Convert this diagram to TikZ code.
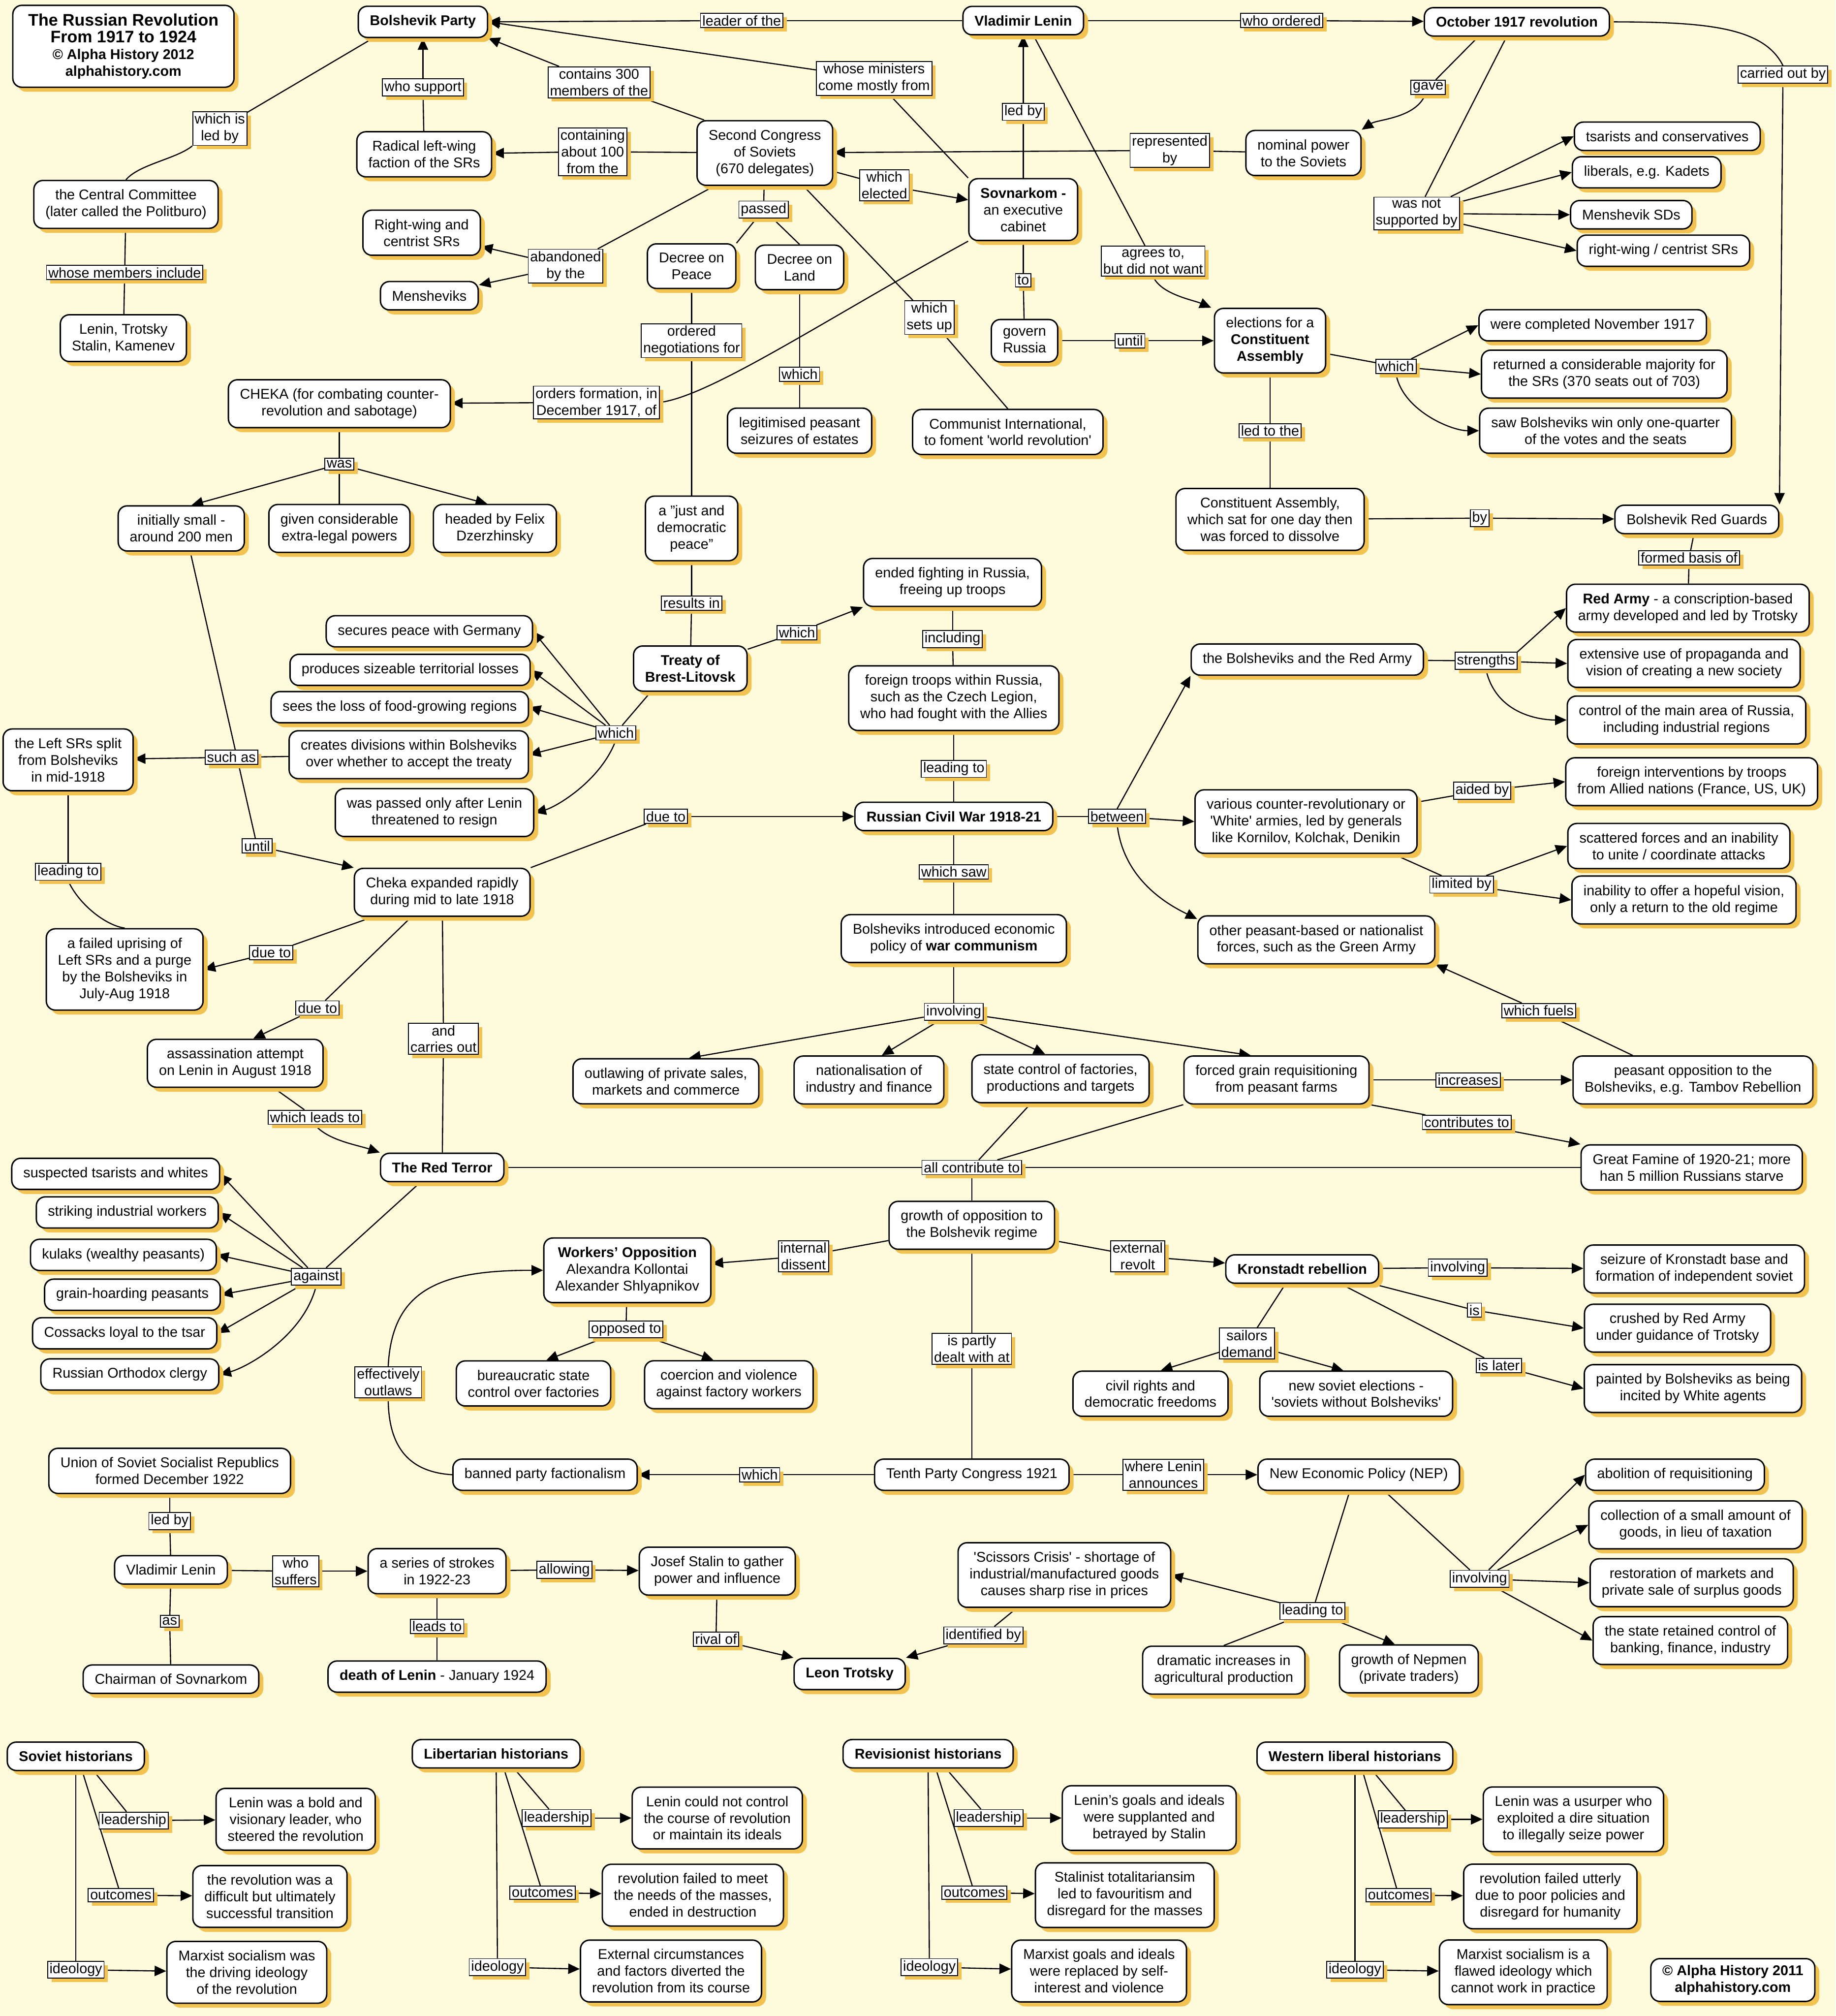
\documentclass[tikz,border=0pt]{standalone}
\usepackage{fontspec}
\setmainfont{Liberation Sans}
\usepackage{tikz}
\usetikzlibrary{arrows.meta,shadows,backgrounds,positioning}

\definecolor{cream}{RGB}{254,251,221}
\definecolor{shadowyel}{RGB}{242,195,80}

\newcommand{\titlebig}{\fontsize{13}{15}\selectfont\bfseries}
\newcommand{\titlesmall}{\fontsize{11}{14}\selectfont\bfseries}

\begin{document}
\begin{tikzpicture}[x=1pt, y=-1pt,
        concept/.style={draw, line width=1.1pt, rounded corners=7pt, fill=white,
                    align=center, font=\fontsize{11}{13}\selectfont,
                    inner xsep=9pt, inner ysep=7pt,
                    drop shadow={shadow xshift=3.5pt, shadow yshift=-3.5pt,
                                 fill=shadowyel, opacity=1}},
        keyconcept/.style={concept, font=\fontsize{11}{13}\selectfont\bfseries},
        linkword/.style={draw, line width=0.7pt, fill=white, align=center,
                    font=\fontsize{11}{13}\selectfont, inner xsep=1.5pt, inner ysep=1.5pt,
                    drop shadow={shadow xshift=3pt, shadow yshift=-3pt,
                                 fill=shadowyel, opacity=1}},
        arr/.style={-{Triangle[length=9pt, width=8pt]}, line width=0.9pt},
        line/.style={line width=0.9pt}
    ]
        \useasboundingbox (0,0) rectangle (1428,1568);

        % ── Title and the top row ─────────────────────────────────────────
        \node[concept, inner xsep=12pt, inner ysep=6.5pt] (title) at (96,36)
            {\titlebig The Russian Revolution\\\titlebig From 1917 to 1924\\
             \titlesmall © Alpha History 2012\\\titlesmall alphahistory.com};
        \node[keyconcept] (bolshevik) at (329,17)   {Bolshevik Party};
        \node[keyconcept] (lenin)     at (796,16)   {Vladimir Lenin};
        \node[keyconcept] (october)   at (1180,17)  {October 1917 revolution};

        \node[concept] (radical)    at (330,120)  {Radical left-wing\\faction of the SRs};
        \node[concept] (central)    at (98,159)   {the Central Committee\\(later called the Politburo)};
        \node[concept] (members)    at (96,263)   {Lenin, Trotsky\\Stalin, Kamenev};
        \node[concept] (second)     at (595,119)  {Second Congress\\of Soviets\\(670 delegates)};
        \node[concept] (nominal)    at (1014,119) {nominal power\\to the Soviets};
        \node[concept] (sovnarkom)  at (796,163)  {\textbf{Sovnarkom -}\\an executive\\cabinet};
        \node[concept] (govern)     at (797,265)  {govern\\Russia};
        \node[concept] (elections)  at (988,265)  {elections for a\\\textbf{Constituent}\\\textbf{Assembly}};
        \node[concept] (tsarists)   at (1297,106) {tsarists and conservatives};
        \node[concept] (liberals)   at (1281,134) {liberals, e.g. Kadets};
        \node[concept] (menshsd)    at (1269,167) {Menshevik SDs};
        \node[concept] (rightsrs)   at (1294,195) {right-wing / centrist SRs};
        \node[concept] (rightcentr) at (328,181)  {Right-wing and\\centrist SRs};
        \node[concept] (mensheviks) at (334,230)  {Mensheviks};
        \node[concept] (peace)      at (538,207)  {Decree on\\Peace};
        \node[concept] (land)       at (622,208)  {Decree on\\Land};
        \node[concept] (cheka)      at (264,314)  {CHEKA (for combating counter-\\revolution and sabotage)};
        \node[concept] (legit)      at (622,335)  {legitimised peasant\\seizures of estates};
        \node[concept] (comintern)  at (784,336)  {Communist International,\\to foment \textquotesingle world revolution\textquotesingle};
        \node[concept] (small)      at (141,411)  {initially small -\\around 200 men};
        \node[concept] (extralegal) at (264,411)  {given considerable\\extra-legal powers};
        \node[concept] (headed)     at (385,411)  {headed by Felix\\Dzerzhinsky};
        \node[concept] (justpeace)  at (538,411)  {a "just and\\democratic\\peace"};
        \node[concept] (constass)   at (988,404)  {Constituent Assembly,\\which sat for one day then\\was forced to dissolve};
        \node[concept] (completed)  at (1239,253) {were completed November 1917};
        \node[concept] (returned)   at (1248,291) {returned a considerable majority for\\the SRs (370 seats out of 703)};
        \node[concept] (saw)        at (1249,335) {saw Bolsheviks win only one-quarter\\of the votes and the seats};
        \node[concept] (redguards)  at (1320,404) {Bolshevik Red Guards};
        \node[concept] (redarmy)    at (1313,473) {\textbf{Red Army} - a conscription-based\\army developed and led by Trotsky};

        % ── Brest-Litovsk, Cheka and the Red Terror ──────────────────────
        \node[keyconcept] (treaty) at (537,520) {Treaty of\\Brest-Litovsk};
        \node[concept] (ended)      at (741,453)  {ended fighting in Russia,\\freeing up troops};
        \node[concept] (foreign)    at (742,543)  {foreign troops within Russia,\\such as the Czech Legion,\\who had fought with the Allies};
        \node[keyconcept] (civilwar) at (742,635) {Russian Civil War 1918-21};
        \node[concept] (secures)    at (334,491)  {secures peace with Germany};
        \node[concept] (produces)   at (319,521)  {produces sizeable territorial losses};
        \node[concept] (sees)       at (311,550)  {sees the loss of food-growing regions};
        \node[concept] (creates)    at (318,587)  {creates divisions within Bolsheviks\\over whether to accept the treaty};
        \node[concept] (passedonly) at (338,632)  {was passed only after Lenin\\threatened to resign};
        \node[concept] (leftsplit)  at (53,591)   {the Left SRs split\\from Bolsheviks\\in mid-1918};
        \node[concept] (uprising)   at (97,754)   {a failed uprising of\\Left SRs and a purge\\by the Bolsheviks in\\July-Aug 1918};
        \node[concept] (chekaexp)   at (344,694)  {Cheka expanded rapidly\\during mid to late 1918};
        \node[concept] (assassin)   at (183,827)  {assassination attempt\\on Lenin in August 1918};
        \node[keyconcept] (redterror) at (344,908) {The Red Terror};
        \node[concept] (suspected)  at (90,913)   {suspected tsarists and whites};
        \node[concept] (striking)   at (99,943)   {striking industrial workers};
        \node[concept] (kulaks)     at (96,976)   {kulaks (wealthy peasants)};
        \node[concept] (grainhoard) at (103,1007) {grain-hoarding peasants};
        \node[concept] (cossacks)   at (97,1037)  {Cossacks loyal to the tsar};
        \node[concept] (orthodox)   at (101,1069) {Russian Orthodox clergy};

        % ── Civil War and war communism ───────────────────────────────────
        \node[concept] (bolsred)    at (1017,513) {the Bolsheviks and the Red Army};
        \node[concept] (whites)     at (1016,639) {various counter-revolutionary or\\\textquotesingle White\textquotesingle\ armies, led by generals\\like Kornilov, Kolchak, Denikin};
        \node[concept] (greens)     at (1024,731) {other peasant-based or nationalist\\forces, such as the Green Army};
        \node[concept] (propaganda) at (1310,516) {extensive use of propaganda and\\vision of creating a new society};
        \node[concept] (control)    at (1312,560) {control of the main area of Russia,\\including industrial regions};
        \node[concept] (interv)     at (1316,608) {foreign interventions by troops\\from Allied nations (France, US, UK)};
        \node[concept] (scattered)  at (1306,658) {scattered forces and an inability\\to unite / coordinate attacks};
        \node[concept] (inability)  at (1310,700) {inability to offer a hopeful vision,\\only a return to the old regime};
        \node[concept] (warcomm)    at (742,730)  {Bolsheviks introduced economic\\policy of \textbf{war communism}};
        \node[concept] (outlawing)  at (518,841)  {outlawing of private sales,\\markets and commerce};
        \node[concept] (national)   at (676,840)  {nationalisation of\\industry and finance};
        \node[concept] (statectrl)  at (825,839)  {state control of factories,\\productions and targets};
        \node[concept] (forced)     at (993,840)  {forced grain requisitioning\\from peasant farms};
        \node[concept] (peasopp)    at (1317,840) {peasant opposition to the\\Bolsheviks, e.g. Tambov Rebellion};
        \node[concept] (famine)     at (1316,908) {Great Famine of 1920-21; more\\han 5 million Russians starve};

        % ── Opposition, Kronstadt and NEP ────────────────────────────────
        \node[concept] (growth)     at (756,953)  {growth of opposition to\\the Bolshevik regime};
        \node[concept] (workersopp) at (488,988)  {\textbf{Workers' Opposition}\\Alexandra Kollontai\\Alexander Shlyapnikov};
        \node[keyconcept] (kronstadt) at (1013,987) {Kronstadt rebellion};
        \node[concept] (bureau)     at (415,1076) {bureaucratic state\\control over factories};
        \node[concept] (coercion)   at (567,1077) {coercion and violence\\against factory workers};
        \node[concept] (seizure)    at (1318,987) {seizure of Kronstadt base and\\formation of independent soviet};
        \node[concept] (crushed)    at (1305,1033) {crushed by Red Army\\under guidance of Trotsky};
        \node[concept] (painted)    at (1317,1080) {painted by Bolsheviks as being\\incited by White agents};
        \node[concept] (civilrights) at (895,1084) {civil rights and\\democratic freedoms};
        \node[concept] (newsoviet)  at (1055,1084) {new soviet elections -\\\textquotesingle soviets without Bolsheviks\textquotesingle};
        \node[concept] (tenth)      at (756,1147) {Tenth Party Congress 1921};
        \node[concept] (banned)     at (424,1147) {banned party factionalism};
        \node[concept] (nep)        at (1057,1147) {New Economic Policy (NEP)};
        \node[concept] (scissors)   at (828,1225) {\textquotesingle Scissors Crisis\textquotesingle\ - shortage of\\industrial/manufactured goods\\causes sharp rise in prices};
        \node[concept] (dramatic)   at (952,1299) {dramatic increases in\\agricultural production};
        \node[concept] (nepmen)     at (1096,1298) {growth of Nepmen\\(private traders)};
        \node[concept] (abolition)  at (1303,1147) {abolition of requisitioning};
        \node[concept] (collection) at (1319,1186) {collection of a small amount of\\goods, in lieu of taxation};
        \node[concept] (restoration) at (1316,1231) {restoration of markets and\\private sale of surplus goods};
        \node[concept] (retained)   at (1315,1276) {the state retained control of\\banking, finance, industry};

        % ── USSR and Lenin's death ────────────────────────────────────────
        \node[concept] (ussr)       at (132,1144) {Union of Soviet Socialist Republics\\formed December 1922};
        \node[concept] (lenin2)     at (133,1221) {Vladimir Lenin};
        \node[concept] (chairman)   at (133,1306) {Chairman of Sovnarkom};
        \node[concept] (strokes)    at (340,1222) {a series of strokes\\in 1922-23};
        \node[concept] (stalin)     at (558,1222) {Josef Stalin to gather\\power and influence};
        \node[keyconcept] (trotsky) at (661,1302) {Leon Trotsky};
        \node[concept] (death)      at (340,1304) {\textbf{death of Lenin} - January 1924};

        % ── Historians ────────────────────────────────────────────────────
        \node[keyconcept] (soviet)  at (59,1366)   {Soviet historians};
        \node[concept] (s1)         at (230,1415)  {Lenin was a bold and\\visionary leader, who\\steered the revolution};
        \node[concept] (s2)         at (210,1475)  {the revolution was a\\difficult but ultimately\\successful transition};
        \node[concept] (s3)         at (192,1534)  {Marxist socialism was\\the driving ideology\\of the revolution};
        \node[keyconcept] (libert)  at (386,1364)  {Libertarian historians};
        \node[concept] (l1)         at (558,1414)  {Lenin could not control\\the course of revolution\\or maintain its ideals};
        \node[concept] (l2)         at (539,1474)  {revolution failed to meet\\the needs of the masses,\\ended in destruction};
        \node[concept] (l3)         at (522,1533)  {External circumstances\\and factors diverted the\\revolution from its course};
        \node[keyconcept] (revis)   at (722,1364)  {Revisionist historians};
        \node[concept] (r1)         at (894,1414)  {Lenin's goals and ideals\\were supplanted and\\betrayed by Stalin};
        \node[concept] (r2)         at (875,1474)  {Stalinist totalitariansim\\led to favouritism and\\disregard for the masses};
        \node[concept] (r3)         at (855,1533)  {Marxist goals and ideals\\were replaced by self-\\interest and violence};
        \node[keyconcept] (western) at (1054,1366) {Western liberal historians};
        \node[concept] (w1)         at (1224,1415) {Lenin was a usurper who\\exploited a dire situation\\to illegally seize power};
        \node[concept] (w2)         at (1206,1475) {revolution failed utterly\\due to poor policies and\\disregard for humanity};
        \node[concept] (w3)         at (1185,1534) {Marxist socialism is a\\flawed ideology which\\cannot work in practice};
        \node[keyconcept, inner ysep=5pt] (copyright) at (1348,1540) {© Alpha History 2011\\alphahistory.com};

        % ── Linking words ─────────────────────────────────────────────────
        \node[linkword] (lLeader)     at (577,16)   {leader of the};
        \node[linkword] (lOrdered)    at (997,16)   {who ordered};
        \node[linkword] (lSupport)    at (329,68)   {who support};
        \node[linkword] (lLedBy1)     at (171,100)  {which is\\led by};
        \node[linkword] (lMembers)    at (97,212)   {whose members include};
        \node[linkword] (lContains)   at (466,64)   {contains 300\\members of the};
        \node[linkword] (lMinisters)  at (680,61)   {whose ministers\\come mostly from};
        \node[linkword] (lContaining) at (461,118)  {containing\\about 100\\from the};
        \node[linkword] (lRepresent)  at (910,117)  {represented\\by};
        \node[linkword] (lGave)       at (1111,68)  {gave};
        \node[linkword] (lElected)    at (688,144)  {which\\elected};
        \node[linkword] (lLedBy2)     at (796,87)   {led by};
        \node[linkword] (lTo)         at (796,218)  {to};
        \node[linkword] (lUntil1)     at (879,265)  {until};
        \node[linkword] (lAgrees)     at (897,203)  {agrees to,\\but did not want};
        \node[linkword] (lNotSupp)    at (1102,166) {was not\\supported by};
        \node[linkword] (lCarried)    at (1387,58)  {carried out by};
        \node[linkword] (lAbandoned)  at (440,207)  {abandoned\\by the};
        \node[linkword] (lPassed)     at (594,163)  {passed};
        \node[linkword] (lOrderedNeg) at (538,265)  {ordered\\negotiations for};
        \node[linkword] (lWhich1)     at (622,291)  {which};
        \node[linkword] (lSetsUp)     at (723,247)  {which\\sets up};
        \node[linkword] (lOrders)     at (464,313)  {orders formation, in\\December 1917, of};
        \node[linkword] (lWas)        at (264,361)  {was};
        \node[linkword] (lLedToThe)   at (988,335)  {led to the};
        \node[linkword] (lBy)         at (1151,403) {by};
        \node[linkword] (lWhich2)     at (1086,285) {which};
        \node[linkword] (lFormed)     at (1314,434) {formed basis of};
        \node[linkword] (lResults)    at (538,469)  {results in};
        \node[linkword] (lWhich3)     at (620,492)  {which};
        \node[linkword] (lIncluding)  at (741,497)  {including};
        \node[linkword] (lLeadingTo1) at (742,598)  {leading to};
        \node[linkword] (lWhich4)     at (479,570)  {which};
        \node[linkword] (lSuchAs)     at (180,589)  {such as};
        \node[linkword] (lLeadingTo2) at (53,678)   {leading to};
        \node[linkword] (lUntil2)     at (200,658)  {until};
        \node[linkword] (lDueTo1)     at (518,635)  {due to};
        \node[linkword] (lDueTo2)     at (211,741)  {due to};
        \node[linkword] (lDueTo3)     at (247,784)  {due to};
        \node[linkword] (lLeadsTo1)   at (245,869)  {which leads to};
        \node[linkword] (lCarries)    at (345,808)  {and\\carries out};
        \node[linkword] (lAgainst)    at (246,993)  {against};
        \node[linkword] (lBetween)    at (869,635)  {between};
        \node[linkword] (lStrengths)  at (1156,514) {strengths};
        \node[linkword] (lAided)      at (1153,615) {aided by};
        \node[linkword] (lLimited)    at (1137,688) {limited by};
        \node[linkword] (lWhichSaw)   at (742,678)  {which saw};
        \node[linkword] (lInvolving1) at (742,787)  {involving};
        \node[linkword] (lIncreases)  at (1142,840) {increases};
        \node[linkword] (lFuels)      at (1197,786) {which fuels};
        \node[linkword] (lContrib)    at (1141,873) {contributes to};
        \node[linkword] (lAllContrib) at (756,908)  {all contribute to};
        \node[linkword] (lInternal)   at (625,977)  {internal\\dissent};
        \node[linkword] (lExternal)   at (885,977)  {external\\revolt};
        \node[linkword] (lOpposed)    at (487,1034) {opposed to};
        \node[linkword] (lOutlaws)    at (302,1075) {effectively\\outlaws};
        \node[linkword] (lInvolving2) at (1134,986) {involving};
        \node[linkword] (lIs)         at (1147,1019) {is};
        \node[linkword] (lIsLater)    at (1166,1062) {is later};
        \node[linkword] (lSailors)    at (970,1045) {sailors\\demand};
        \node[linkword] (lPartly)     at (756,1049) {is partly\\dealt with at};
        \node[linkword] (lWhich5)     at (591,1147) {which};
        \node[linkword] (lAnnounces)  at (905,1147) {where Lenin\\announces};
        \node[linkword] (lLeadingTo3) at (1021,1253) {leading to};
        \node[linkword] (lIdentified) at (765,1272) {identified by};
        \node[linkword] (lInvolving3) at (1151,1228) {involving};
        \node[linkword] (lLedBy3)     at (132,1183) {led by};
        \node[linkword] (lAs)         at (132,1261) {as};
        \node[linkword] (lSuffers)    at (230,1222) {who\\suffers};
        \node[linkword] (lAllowing)   at (439,1221) {allowing};
        \node[linkword] (lRival)      at (557,1275) {rival of};
        \node[linkword] (lLeadsTo2)   at (340,1265) {leads to};
        % historians
        \node[linkword] (lLeadS)  at (104,1416)  {leadership};
        \node[linkword] (lOutS)   at (94,1474)   {outcomes};
        \node[linkword] (lIdeoS)  at (59,1532)   {ideology};
        \node[linkword] (lLeadL)  at (433,1414)  {leadership};
        \node[linkword] (lOutL)   at (422,1472)  {outcomes};
        \node[linkword] (lIdeoL)  at (387,1530)  {ideology};
        \node[linkword] (lLeadR)  at (769,1414)  {leadership};
        \node[linkword] (lOutR)   at (758,1472)  {outcomes};
        \node[linkword] (lIdeoR)  at (723,1530)  {ideology};
        \node[linkword] (lLeadW)  at (1099,1415) {leadership};
        \node[linkword] (lOutW)   at (1088,1474) {outcomes};
        \node[linkword] (lIdeoW)  at (1054,1532) {ideology};

        % ── Connectors, kept under the boxes and their shadows ───────────
        \begin{scope}[on background layer]
        \fill[cream] (0,0) rectangle (1428,1568);

        % top row
        \draw[line] (lenin) -- (lLeader);
        \draw[arr]  (lLeader) -- (bolshevik.east);
        \draw[line] (lenin) -- (lOrdered);
        \draw[arr]  (lOrdered) -- (october);
        \draw[line] (radical) -- (lSupport);
        \draw[arr]  (lSupport) -- (bolshevik);
        \draw[line] ([xshift=12pt]bolshevik.south west) -- (lLedBy1);
        \draw[line] (lLedBy1.south west) .. controls +(-12,10) and +(10,-12) .. (central.north);
        \draw[line] (central) -- (lMembers);
        \draw[line] (lMembers) -- (members);
        \draw[line] ([xshift=6pt]second.north west) -- (lContains);
        \draw[arr]  (lContains) -- (bolshevik.south east);
        \draw[line] (sovnarkom.north west) -- (lMinisters);
        \draw[arr]  (lMinisters) -- (bolshevik.east);
        \draw[line] (second) -- (lContaining);
        \draw[arr]  (lContaining) -- (radical);
        \draw[line] (nominal) -- (lRepresent);
        \draw[arr]  (lRepresent) -- (second);
        \draw[line] ([xshift=-30pt]october.south) -- (lGave);
        \draw[arr]  (lGave) .. controls +(-10,24) and +(12,-8) .. (nominal.north east);
        \draw[line] (second) -- (lElected);
        \draw[arr]  (lElected) -- (sovnarkom);
        \draw[line] (sovnarkom) -- (lLedBy2);
        \draw[arr]  (lLedBy2) -- (lenin);
        \draw[line] (sovnarkom) -- (lTo);
        \draw[line] (lTo) -- (govern);
        \draw[line] (govern) -- (lUntil1);
        \draw[arr]  (lUntil1) -- (elections);
        \draw[line] ([xshift=8pt]lenin.south) -- (lAgrees);
        \draw[arr]  (lAgrees.south) .. controls +(6,14) and +(-14,-6) .. ([xshift=-2pt]elections.north west);
        \draw[line] ([xshift=-8pt]october.south) -- (lNotSupp);
        \draw[arr]  (lNotSupp) -- (tsarists.west);
        \draw[arr]  (lNotSupp) -- (liberals.west);
        \draw[arr]  (lNotSupp) -- (menshsd.west);
        \draw[arr]  (lNotSupp) -- (rightsrs.west);
        \draw[line] (october.east) .. controls +(75,0) and +(-15,-30) .. (lCarried.north);
        \draw[arr]  (lCarried) -- (redguards.north east);
        \draw[line] ([xshift=14pt]second.south west) -- (lAbandoned);
        \draw[arr]  (lAbandoned) -- (rightcentr);
        \draw[arr]  (lAbandoned) -- (mensheviks);
        \draw[line] (second) -- (lPassed);
        \draw[line] (lPassed) -- (peace.north east);
        \draw[line] (lPassed) -- (land.north);
        \draw[line] (peace) -- (lOrderedNeg);
        \draw[line] (lOrderedNeg) -- (justpeace);
        \draw[line] (land) -- (lWhich1);
        \draw[line] (lWhich1) -- (legit);
        \draw[line] ([xshift=30pt]second.south) -- (lSetsUp);
        \draw[line] (lSetsUp) -- (comintern.north);
        \draw[line] (sovnarkom.south west) .. controls +(-110,60) and +(40,-5) .. (lOrders.east);
        \draw[arr]  (lOrders) -- (cheka);
        \draw[line] (cheka) -- (lWas);
        \draw[arr]  (lWas) -- ([xshift=8pt]small.north);
        \draw[line] (lWas) -- (extralegal);
        \draw[arr]  (lWas) -- ([xshift=-6pt]headed.north);
        \draw[line] (elections) -- (lLedToThe);
        \draw[line] (lLedToThe) -- (constass);
        \draw[line] (constass) -- (lBy);
        \draw[arr]  (lBy) -- (redguards);
        \draw[line] ([yshift=-10pt]elections.east) -- (lWhich2);
        \draw[arr]  (lWhich2) -- (completed.west);
        \draw[arr]  (lWhich2) -- (returned.west);
        \draw[arr]  (lWhich2.south) .. controls +(5,28) and +(-22,0) .. (saw.west);
        \draw[line] (redguards) -- (lFormed);
        \draw[line] (lFormed) -- (redarmy);

        % Brest-Litovsk
        \draw[line] (justpeace) -- (lResults);
        \draw[line] (lResults) -- (treaty);
        \draw[line] (treaty) -- (lWhich3);
        \draw[arr]  (lWhich3) -- (ended.south west);
        \draw[line] (ended) -- (lIncluding);
        \draw[line] (lIncluding) -- (foreign);
        \draw[line] (foreign) -- (lLeadingTo1);
        \draw[line] (lLeadingTo1) -- (civilwar);
        \draw[line] ([xshift=14pt]treaty.south west) -- (lWhich4);
        \draw[arr]  (lWhich4) -- (secures.east);
        \draw[arr]  (lWhich4) -- (produces.east);
        \draw[arr]  (lWhich4) -- (sees.east);
        \draw[arr]  (lWhich4) -- (creates.east);
        \draw[arr]  (lWhich4.south) .. controls +(-12,32) and +(16,-4) .. (passedonly.east);
        \draw[line] (creates) -- (lSuchAs);
        \draw[arr]  (lSuchAs) -- (leftsplit);
        \draw[line] (leftsplit) -- (lLeadingTo2);
        \draw[line] (lLeadingTo2.south) .. controls +(8,18) and +(-15,-2) .. (uprising.north);

        % Cheka and Red Terror
        \draw[line] ([xshift=7pt]small.south) -- (lUntil2);
        \draw[arr]  (lUntil2) -- (chekaexp.north west);
        \draw[line] (chekaexp.north east) -- (lDueTo1);
        \draw[arr]  (lDueTo1) -- (civilwar);
        \draw[line] ([xshift=15pt]chekaexp.south west) -- (lDueTo2);
        \draw[arr]  (lDueTo2) -- (uprising.east);
        \draw[line] ([xshift=-24pt]chekaexp.south) -- (lDueTo3);
        \draw[arr]  (lDueTo3) -- ([xshift=14pt]assassin.north);
        \draw[line] ([xshift=30pt]assassin.south) -- (lLeadsTo1);
        \draw[arr]  (lLeadsTo1.south) .. controls +(10,12) and +(-18,-6) .. (redterror.north west);
        \draw[line] (chekaexp) -- (lCarries);
        \draw[line] (lCarries) -- (redterror);
        \draw[line] ([xshift=-17pt]redterror.south) -- (lAgainst);
        \draw[arr]  (lAgainst) -- (suspected.east);
        \draw[arr]  (lAgainst) -- (striking.east);
        \draw[arr]  (lAgainst) -- (kulaks.east);
        \draw[arr]  (lAgainst) -- (grainhoard.east);
        \draw[arr]  (lAgainst) -- (cossacks.east);
        \draw[arr]  (lAgainst.south) .. controls +(-10,40) and +(20,-5) .. (orthodox.east);

        % Civil War
        \draw[line] (civilwar) -- (lBetween);
        \draw[arr]  (lBetween.north) -- (bolsred.south west);
        \draw[arr]  (lBetween) -- (whites.west);
        \draw[arr]  (lBetween.south) .. controls +(5,45) and +(-20,-10) .. ([yshift=-3pt]greens.north west);
        \draw[line] (bolsred) -- (lStrengths);
        \draw[arr]  (lStrengths.north east) -- (redarmy.west);
        \draw[arr]  (lStrengths) -- (propaganda.west);
        \draw[arr]  (lStrengths.south) .. controls +(8,35) and +(-20,0) .. (control.west);
        \draw[line] (whites) -- (lAided);
        \draw[arr]  (lAided) -- (interv.west);
        \draw[line] ([xshift=-19pt]whites.south east) -- (lLimited);
        \draw[arr]  (lLimited) -- (scattered.west);
        \draw[arr]  (lLimited) -- (inability.west);
        \draw[line] (civilwar) -- (lWhichSaw);
        \draw[line] (lWhichSaw) -- (warcomm);
        \draw[line] (warcomm) -- (lInvolving1);
        \draw[arr]  (lInvolving1) -- ([xshift=18pt]outlawing.north);
        \draw[arr]  (lInvolving1) -- ([xshift=10pt]national.north);
        \draw[arr]  (lInvolving1) -- ([xshift=-12pt]statectrl.north);
        \draw[arr]  (lInvolving1) -- ([xshift=-20pt]forced.north);
        \draw[line] (forced) -- (lIncreases);
        \draw[arr]  (lIncreases) -- (peasopp);
        \draw[line] ([xshift=-47pt]peasopp.north) -- (lFuels);
        \draw[arr]  (lFuels) -- (greens.south east);
        \draw[line] (forced.south east) -- (lContrib);
        \draw[arr]  (lContrib) -- (famine.north west);
        \draw[line] (redterror) -- (lAllContrib);
        \draw[line] (famine) -- (lAllContrib);
        \draw[line] ([xshift=-23pt]statectrl.south) -- (lAllContrib);
        \draw[line] (forced.south west) -- (lAllContrib);
        \draw[line] (lAllContrib) -- (growth);

        % opposition, Kronstadt, NEP
        \draw[line] (growth) -- (lInternal);
        \draw[arr]  (lInternal) -- (workersopp);
        \draw[line] (growth) -- (lExternal);
        \draw[arr]  (lExternal) -- (kronstadt);
        \draw[line] (workersopp) -- (lOpposed);
        \draw[arr]  (lOpposed) -- ([xshift=10pt]bureau.north);
        \draw[arr]  (lOpposed) -- ([xshift=-12pt]coercion.north);
        \draw[line] (banned.west) .. controls +(-32,-2) and +(0,40) .. (lOutlaws.south);
        \draw[arr]  (lOutlaws.north) .. controls +(3,-60) and +(-80,0) .. (workersopp.west);
        \draw[line] (kronstadt) -- (lInvolving2);
        \draw[arr]  (lInvolving2) -- (seizure);
        \draw[line] ([xshift=-5pt]kronstadt.south east) -- (lIs);
        \draw[arr]  (lIs) -- (crushed.west);
        \draw[line] ([xshift=-30pt]kronstadt.south east) -- (lIsLater);
        \draw[arr]  (lIsLater) -- (painted.west);
        \draw[line] ([xshift=-13pt]kronstadt.south) -- (lSailors);
        \draw[arr]  (lSailors) -- ([xshift=8pt]civilrights.north);
        \draw[arr]  (lSailors) -- ([xshift=-10pt]newsoviet.north);
        \draw[line] (growth) -- (lPartly);
        \draw[line] (lPartly) -- (tenth);
        \draw[line] (tenth) -- (lWhich5);
        \draw[arr]  (lWhich5) -- (banned);
        \draw[line] (tenth) -- (lAnnounces);
        \draw[arr]  (lAnnounces) -- (nep);
        \draw[line] ([xshift=-7pt]nep.south) -- (lLeadingTo3);
        \draw[arr]  (lLeadingTo3) -- (scissors.east);
        \draw[line] (lLeadingTo3) -- (dramatic.north);
        \draw[arr]  (lLeadingTo3) -- ([xshift=-11pt]nepmen.north);
        \draw[line] ([xshift=-37pt]scissors.south) -- (lIdentified);
        \draw[arr]  (lIdentified) -- (trotsky.north east);
        \draw[line] ([xshift=20pt]nep.south) -- (lInvolving3);
        \draw[arr]  (lInvolving3) -- (abolition.west);
        \draw[arr]  (lInvolving3) -- (collection.west);
        \draw[arr]  (lInvolving3) -- (restoration.west);
        \draw[arr]  (lInvolving3) -- (retained.west);

        % USSR and Lenin's death
        \draw[line] (ussr) -- (lLedBy3);
        \draw[line] (lLedBy3) -- (lenin2);
        \draw[line] (lenin2) -- (lAs);
        \draw[line] (lAs) -- (chairman);
        \draw[line] (lenin2) -- (lSuffers);
        \draw[arr]  (lSuffers) -- (strokes);
        \draw[line] (strokes) -- (lAllowing);
        \draw[arr]  (lAllowing) -- (stalin);
        \draw[line] (stalin) -- (lRival);
        \draw[arr]  (lRival) -- (trotsky.north west);
        \draw[line] (strokes) -- (lLeadsTo2);
        \draw[line] (lLeadsTo2) -- (death);

        % historians
        \draw[line] ([xshift=14pt]soviet.south) -- (lLeadS);
        \draw[arr]  (lLeadS) -- (s1);
        \draw[line] ([xshift=5pt]soviet.south) -- (lOutS);
        \draw[arr]  (lOutS) -- (s2);
        \draw[line] (soviet.south) -- (lIdeoS);
        \draw[arr]  (lIdeoS) -- (s3);
        \draw[line] ([xshift=14pt]libert.south) -- (lLeadL);
        \draw[arr]  (lLeadL) -- (l1);
        \draw[line] ([xshift=6pt]libert.south) -- (lOutL);
        \draw[arr]  (lOutL) -- (l2);
        \draw[line] (libert.south) -- (lIdeoL);
        \draw[arr]  (lIdeoL) -- (l3);
        \draw[line] ([xshift=14pt]revis.south) -- (lLeadR);
        \draw[arr]  (lLeadR) -- (r1);
        \draw[line] ([xshift=6pt]revis.south) -- (lOutR);
        \draw[arr]  (lOutR) -- (r2);
        \draw[line] (revis.south) -- (lIdeoR);
        \draw[arr]  (lIdeoR) -- (r3);
        \draw[line] ([xshift=14pt]western.south) -- (lLeadW);
        \draw[arr]  (lLeadW) -- (w1);
        \draw[line] ([xshift=6pt]western.south) -- (lOutW);
        \draw[arr]  (lOutW) -- (w2);
        \draw[line] (western.south) -- (lIdeoW);
        \draw[arr]  (lIdeoW) -- (w3);
        \end{scope}

    \end{tikzpicture}
\end{document}
